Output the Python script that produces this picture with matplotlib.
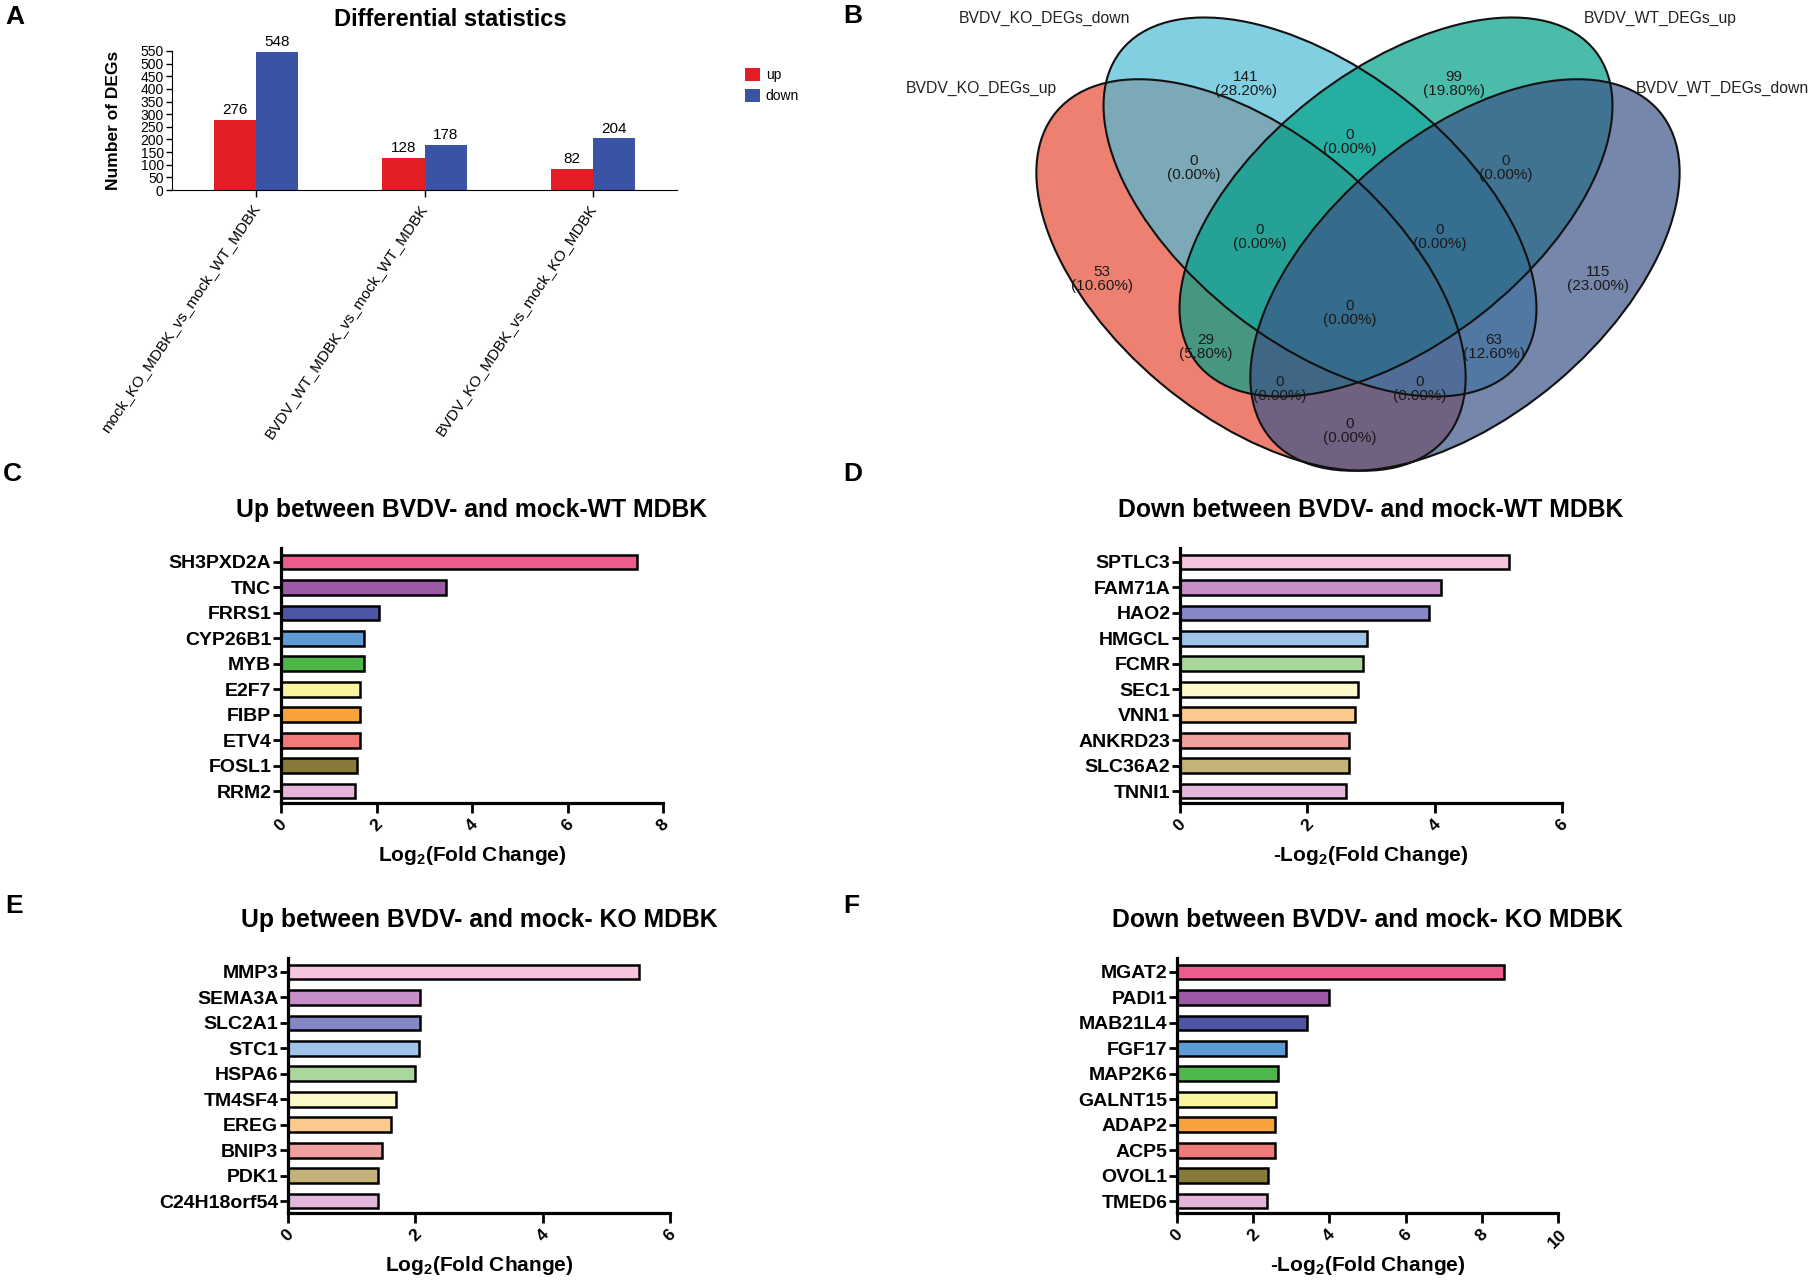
import numpy as np
import matplotlib
matplotlib.use("Agg")
import matplotlib.pyplot as plt
from matplotlib.patches import Ellipse

plt.rcParams['font.family'] = ['Liberation Sans', 'DejaVu Sans']
plt.rcParams['mathtext.fontset'] = 'custom'
plt.rcParams['mathtext.rm'] = 'Liberation Sans:bold'
plt.rcParams['mathtext.it'] = 'Liberation Sans:bold'
plt.rcParams['mathtext.bf'] = 'Liberation Sans:bold'

W, H = 1819, 1288

# ---------------- data ----------------
comparisons = ["mock_KO_MDBK_vs_mock_WT_MDBK",
               "BVDV_WT_MDBK_vs_mock_WT_MDBK",
               "BVDV_KO_MDBK_vs_mock_KO_MDBK"]
up_counts = [276, 128, 82]
down_counts = [548, 178, 204]

venn_sets = ["BVDV_KO_DEGs_up", "BVDV_KO_DEGs_down",
             "BVDV_WT_DEGs_up", "BVDV_WT_DEGs_down"]
# membership flags in the order of venn_sets
venn_counts = {
    "1000": 53, "0100": 141, "0010": 99, "0001": 115,
    "1100": 0, "1010": 29, "1001": 0, "0110": 0, "0101": 63, "0011": 0,
    "1110": 0, "0111": 0, "1011": 0, "1101": 0, "1111": 0,
}

genes_c = ["SH3PXD2A", "TNC", "FRRS1", "CYP26B1", "MYB", "E2F7", "FIBP", "ETV4", "FOSL1", "RRM2"]
lfc_c = [7.46, 3.45, 2.05, 1.74, 1.74, 1.66, 1.65, 1.65, 1.59, 1.54]

genes_d = ["SPTLC3", "FAM71A", "HAO2", "HMGCL", "FCMR", "SEC1", "VNN1", "ANKRD23", "SLC36A2", "TNNI1"]
lfc_d = [5.17, 4.10, 3.91, 2.93, 2.87, 2.79, 2.75, 2.66, 2.66, 2.60]

genes_e = ["MMP3", "SEMA3A", "SLC2A1", "STC1", "HSPA6", "TM4SF4", "EREG", "BNIP3", "PDK1", "C24H18orf54"]
lfc_e = [5.52, 2.07, 2.07, 2.05, 1.99, 1.70, 1.61, 1.47, 1.42, 1.41]

genes_f = ["MGAT2", "PADI1", "MAB21L4", "FGF17", "MAP2K6", "GALNT15", "ADAP2", "ACP5", "OVOL1", "TMED6"]
lfc_f = [8.59, 3.98, 3.42, 2.86, 2.64, 2.60, 2.57, 2.57, 2.40, 2.36]

# ---------------- styles ----------------
vivid = ['#EE5B8F', '#9C5AA6', '#4F55A5', '#5E9BD6', '#4DB74A',
         '#F9F49E', '#F8A23C', '#F07A7A', '#887A38', '#E6B4D8']
pastel = ['#F6C4DC', '#C88EC7', '#8488C6', '#9EC4EA', '#AAD79C',
          '#FCF8C7', '#FCCA8C', '#F29F9F', '#C4B27B', '#E4B6D9']
venn_colors = ['#E64B35', '#4DBBD5', '#00A087', '#3C5488']

fig = plt.figure(figsize=(W / 100, H / 100), dpi=100)


def px_axes(x0, y0, x1, y1):
    return fig.add_axes([x0 / W, 1 - y1 / H, (x1 - x0) / W, (y1 - y0) / H])


def letter(x, y, s):
    fig.text(x / W, 1 - y / H, s, fontsize=19, fontweight='bold', ha='left', va='center')


# ---------------- A: DEG counts ----------------
axA = px_axes(172, 51, 677, 190)
xpos = np.arange(len(comparisons))
bw = 0.25
b_up = axA.bar(xpos - bw / 2, up_counts, bw, color='#E41E26', label='up')
b_dn = axA.bar(xpos + bw / 2, down_counts, bw, color='#3A53A4', label='down')
axA.bar_label(b_up, padding=2, fontsize=11)
axA.bar_label(b_dn, padding=2, fontsize=11)
axA.set_xlim(-0.5, 2.5)
axA.set_ylim(0, 550)
axA.set_yticks(range(0, 551, 50))
axA.tick_params(axis='y', labelsize=10, length=4, width=1, pad=2)
axA.set_xticks(xpos)
axA.set_xticklabels(comparisons, rotation=56, ha='right', va='center',
                    rotation_mode='anchor', fontsize=11)
axA.tick_params(axis='x', length=5, width=1, pad=6)
for s in ['top', 'right']:
    axA.spines[s].set_visible(False)
axA.set_ylabel('Number of DEGs', fontsize=12.5, fontweight='bold')
axA.yaxis.set_label_coords(-0.115, 0.5)
axA.yaxis.label.set_va('center')
fig.text(450 / W, 1 - 19 / H, 'Differential statistics', fontsize=17,
         fontweight='bold', ha='center', va='center')
axA.legend([b_up, b_dn], ['up', 'down'], loc='upper left',
           bbox_to_anchor=(745 / W, 1 - 68 / H), bbox_transform=fig.transFigure,
           frameon=False, fontsize=10, handlelength=1.1, handleheight=1.1,
           handletextpad=0.4, labelspacing=0.45, borderaxespad=0, borderpad=0)

# ---------------- B: Venn ----------------
axB = px_axes(860, 0, 1819, 490)
axB.set_xlim(860, 1819)
axB.set_ylim(490, 0)
axB.axis('off')
S = 1358   # symmetry line of the ellipses
SL = 1350  # symmetry line of the labels
ellipses = [(S - 107, 275, 254, 141, 40),
            (S - 38, 207, 253, 137, 38),
            (S + 38, 207, 253, 137, -38),
            (S + 107, 275, 254, 141, -40)]
for (cx, cy, a, b, ang), col in zip(ellipses, venn_colors):
    axB.add_patch(Ellipse((cx, cy), 2 * a, 2 * b, angle=ang, facecolor=col,
                          alpha=0.7, edgecolor='none'))
for (cx, cy, a, b, ang) in ellipses:
    axB.add_patch(Ellipse((cx, cy), 2 * a, 2 * b, angle=ang, fill=False,
                          edgecolor='#111111', linewidth=1.5))

region_pos = {
    "1000": (-248, 279), "0100": (-104, 84), "0010": (104, 84), "0001": (248, 279),
    "1100": (-156, 168), "1010": (-144, 347), "1001": (0, 431), "0110": (0, 142),
    "0101": (144, 347), "0011": (156, 168),
    "1110": (-90, 237), "0111": (90, 237), "1011": (-70, 389), "1101": (70, 389),
    "1111": (0, 313),
}
total = sum(venn_counts.values())
for key, n in venn_counts.items():
    dx, y = region_pos[key]
    axB.text(SL + dx, y, f"{n}\n({n / total * 100:.2f}%)", ha='center', va='center',
             fontsize=11, linespacing=0.95, color='#1a1a1a')

set_pos = [(-369, 88), (-306, 18), (310, 18), (372, 88)]
for name, (dx, y) in zip(venn_sets, set_pos):
    axB.text(SL + dx, y, name, ha='center', va='center', fontsize=11.3, color='#222222')


# ---------------- C-F: top genes ----------------
def bar_panel(box, genes, values, colors, xmax, xlabel, title):
    ax = px_axes(*box)
    yy = np.arange(len(genes))
    ax.barh(yy, values, height=0.58, color=colors, edgecolor='black', linewidth=1.8)
    ax.set_ylim(len(genes) - 0.53, -0.55)
    ax.set_xlim(0, xmax)
    ax.set_xticks(np.arange(0, xmax + 1, 2))
    ax.set_yticks(yy)
    ax.set_yticklabels(genes, fontsize=14, fontweight='bold')
    ax.tick_params(axis='y', length=6, width=2, pad=1)
    ax.tick_params(axis='x', length=7, width=2, labelsize=12.5, labelrotation=45, pad=3)
    for t in ax.get_xticklabels():
        t.set_fontweight('bold')
    for s in ['top', 'right']:
        ax.spines[s].set_visible(False)
    for s in ['left', 'bottom']:
        ax.spines[s].set_linewidth(2.3)
    ax.set_xlabel(xlabel, fontsize=15, fontweight='bold')
    ax.xaxis.set_label_coords(0.5, -0.205)
    ax.xaxis.label.set_va('center')
    ax.set_title(title, fontsize=17.8, fontweight='bold', pad=22.5)
    return ax


bar_panel((281, 548, 663, 803), genes_c, lfc_c, vivid, 8,
          'Log$_2$(Fold Change)', 'Up between BVDV- and mock-WT MDBK')
bar_panel((1180, 548, 1562, 803), genes_d, lfc_d, pastel, 6,
          '-Log$_2$(Fold Change)', 'Down between BVDV- and mock-WT MDBK')
bar_panel((288, 958, 670, 1213), genes_e, lfc_e, pastel, 6,
          'Log$_2$(Fold Change)', 'Up between BVDV- and mock- KO MDBK')
bar_panel((1177, 958, 1558, 1213), genes_f, lfc_f, vivid, 10,
          '-Log$_2$(Fold Change)', 'Down between BVDV- and mock- KO MDBK')

for x, y, s in [(5, 17, 'A'), (843, 16, 'B'), (3, 474, 'C'),
                (843, 474, 'D'), (5, 906, 'E'), (843, 906, 'F')]:
    letter(x, y, s)

fig.savefig('out.png', dpi=100)
